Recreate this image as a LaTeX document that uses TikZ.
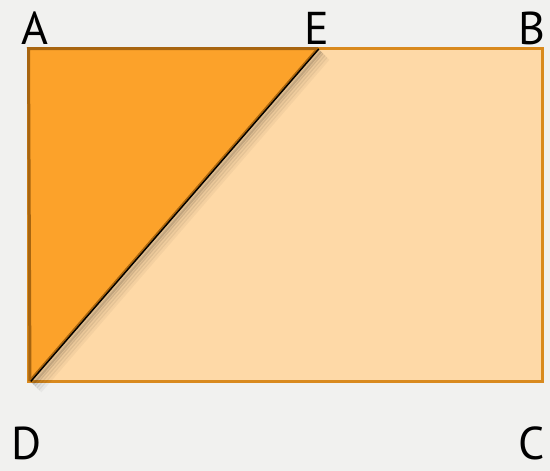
\documentclass[tikz,border=0pt]{standalone}
\usepackage{fontspec}
\setmainfont{PT Sans}
\begin{document}
\begin{tikzpicture}[x=1pt,y=-1pt,
  lbl/.style={inner sep=0pt, font=\fontsize{46}{46}\selectfont, anchor=base},
  rectline/.style={draw=rectorange, line width=3pt},
  triline/.style={draw=tribrown, line width=3pt, line join=miter}]
\definecolor{bg}{HTML}{F1F1EF}
\definecolor{lightfill}{HTML}{FED9A7}
\definecolor{trifill}{HTML}{FCA22A}
\definecolor{rectorange}{HTML}{D98A1E}
\definecolor{tribrown}{HTML}{A8650F}
\fill[bg] (0,0) rectangle (550,471);
\useasboundingbox (0,0) rectangle (550,471);
\coordinate (A) at (28.5,48.5);
\coordinate (E) at (318,48.5);
\coordinate (B) at (542,48.5);
\coordinate (C) at (542,381);
\coordinate (D) at (30,381);
% rectangle
\fill[lightfill] (A) rectangle (C);
\draw[rectline] (A) rectangle (C);
% shadow of diagonal
\foreach \o/\op in {10/0.04,8/0.06,6/0.08,4/0.11,2.5/0.14}{
  \draw[black, opacity=\op, line width=4pt] ([shift={(\o,\o)}]E) -- ([shift={(\o,\o)}]D);
}
% triangle
\fill[trifill] (A) -- (E) -- (D) -- cycle;
\draw[triline] (D) -- (A) -- (E);
\draw[tribrown, line width=3pt] (E) -- (D);
\draw[black, line width=1.4pt] ([shift={(0.8,0.4)}]E) -- ([shift={(0.8,0.4)}]D);
% labels
\node[lbl] (la) at (35,45) {A};
\node[lbl] (le) at (317,45) {E};
\node[lbl] (lb) at (532,45) {B};
\node[lbl] (ld) at (27,459) {D};
\node[lbl] (lc) at (532,459) {C};
\end{tikzpicture}
\end{document}
